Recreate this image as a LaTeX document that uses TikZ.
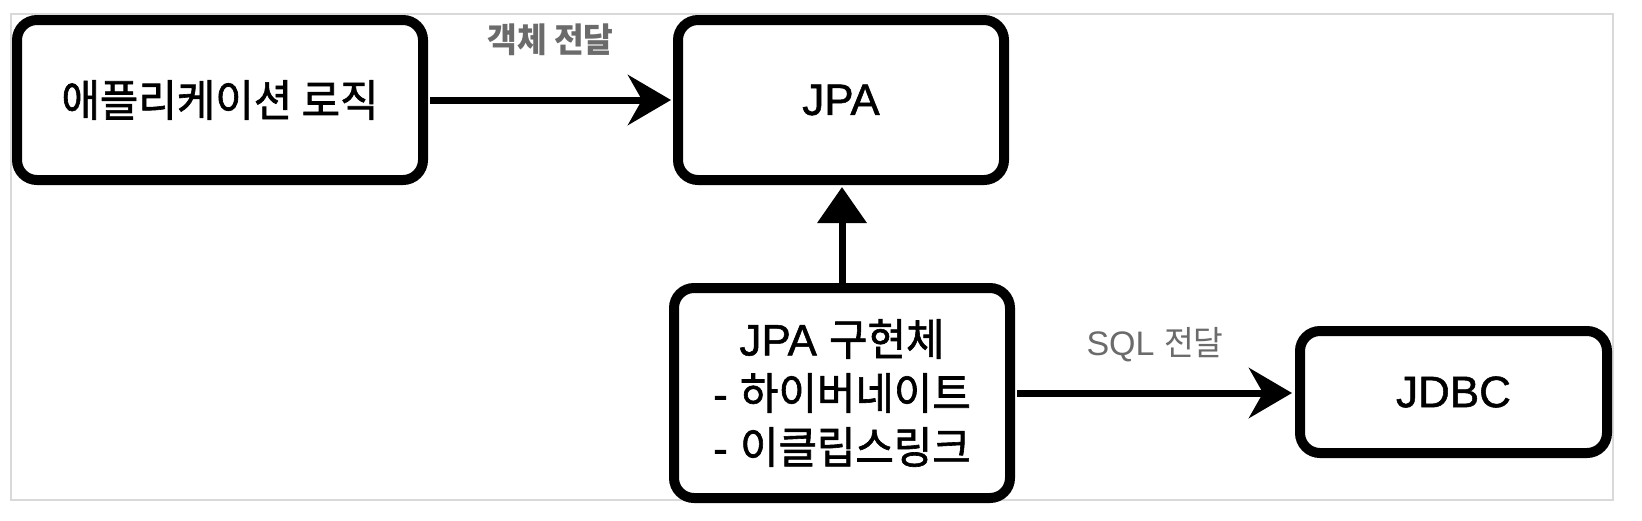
\documentclass[tikz,border=0pt]{standalone}
\usepackage{fontspec}
\setmainfont{Liberation Sans}
\newfontfamily\latm[FakeBold=1.2]{Liberation Sans}
\newfontfamily\kr[FakeStretch=0.95,FakeBold=1.4]{Noto Sans CJK KR}
\newfontfamily\krl[FakeStretch=0.95]{Noto Sans CJK KR}
\usetikzlibrary{arrows.meta}
\definecolor{lblc}{HTML}{6B6B6B}
\definecolor{framec}{HTML}{D9D9D9}
\begin{document}
\begin{tikzpicture}[x=1pt,y=-1pt,
  box/.style={draw=black, line width=10pt, rounded corners=20pt, fill=white,
    inner sep=0pt, outer sep=5pt, align=center,
    font=\latm\fontsize{44}{54}\selectfont, text=black},
  harrow/.style={line width=7pt, -{Stealth[length=43pt,width=50pt,inset=14pt]}},
  varrow/.style={line width=7pt, -{Triangle[length=36pt,width=48pt]}},
  lbl/.style={text=lblc, font=\fontsize{34}{40}\selectfont, inner sep=0pt}]
\useasboundingbox (0,0) rectangle (1642,520);
\fill[white] (0,0) rectangle (1642,520);
\draw[framec, line width=2pt] (11,14) rectangle (1613,500);
\node[box, minimum width=406pt, minimum height=160pt] (app) at (220,100) {\kr 애플리케이션 로직};
\node[box, minimum width=326pt, minimum height=160pt] (jpa) at (841,100) {JPA};
\node[box, minimum width=336pt, minimum height=210pt] (impl) at (842,393)
  {JPA {\kr 구현체}\\- {\kr 하이버네이트}\\- {\kr 이클립스링크}};
\node[box, minimum width=307pt, minimum height=122pt] (jdbc) at (1453.5,392) {JDBC};
\draw[harrow, shorten <=2pt, shorten >=2pt] (app.east) --
  node[lbl, yshift=60pt] (l1) {\krl\bfseries 객체 전달} (jpa.west);
\draw[varrow, shorten >=2pt] (impl.north) -- (impl.north |- jpa.south);
\draw[harrow, shorten <=2pt, shorten >=3pt] (impl.east) --
  node[lbl, yshift=48pt] (l2) {SQL {\krl 전달}} (impl.east -| jdbc.west);
\end{tikzpicture}
\end{document}
